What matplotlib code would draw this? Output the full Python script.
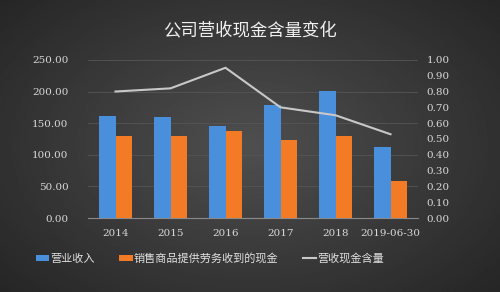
import numpy as np
import matplotlib.pyplot as plt

plt.rcParams['font.family'] = ['Noto Sans CJK SC', 'DejaVu Sans']

years = ['2014', '2015', '2016', '2017', '2018', '2019-06-30']
revenue = [161, 160, 146, 179, 201, 112]
cash = [130, 130, 138, 123, 130, 59]
ratio = [0.80, 0.82, 0.95, 0.70, 0.65, 0.53]

title = '公司营收现金含量变化'
labels = ['营业收入', '销售商品提供劳务收到的现金', '营收现金含量']


def main() -> None:
  fig = plt.figure(figsize=(5, 2.92), dpi=100)

  #* background gradient
  bg = fig.add_axes([0, 0, 1, 1])
  yy, xx = np.mgrid[-1:1:200j, -1:1:300j]
  r = np.sqrt(xx**2 + (yy * 0.9)**2)
  bg.imshow(0.31 - 0.12 * r, cmap='gray', vmin=0, vmax=1, aspect='auto', extent=[0, 1, 0, 1])
  bg.axis('off')

  ax = fig.add_axes([0.176, 0.253, 0.66, 0.542])
  ax.patch.set_alpha(0)
  x = np.arange(len(years))
  w = 0.3
  ax.bar(x - w/2, revenue, w, color='#4a8fdc', label=labels[0], zorder=3)
  ax.bar(x + w/2, cash, w, color='#f47b25', label=labels[1], zorder=3)
  ax.set_ylim(0, 250)
  ax.set_yticks(np.arange(0, 251, 50))
  ax.set_yticklabels([f'{v:.2f}' for v in np.arange(0, 251, 50)])
  ax.set_xlim(-0.5, len(years) - 0.5)
  ax.set_xticks(x)
  ax.set_xticklabels(years)
  ax.grid(axis='y', color='#555555', linewidth=0.6, zorder=0)
  for s in ['top', 'right', 'left']:
    ax.spines[s].set_visible(False)
  ax.spines['bottom'].set_color('#8a8a8a')
  ax.tick_params(length=0, colors='#d8d8d8', labelsize=7.5)
  ax.tick_params(axis='y', pad=14)
  ax.tick_params(axis='x', pad=8)
  for t in ax.get_xticklabels() + ax.get_yticklabels():
    t.set_family('DejaVu Serif')

  ax2 = ax.twinx()
  ax2.plot(x, ratio, color='#c8c8c8', linewidth=1.5, label=labels[2], zorder=4)
  ax2.set_ylim(0, 1)
  ax2.set_yticks(np.arange(0, 1.01, 0.1))
  ax2.set_yticklabels([f'{v:.2f}' for v in np.arange(0, 1.01, 0.1)])
  for s in ['top', 'right', 'left', 'bottom']:
    ax2.spines[s].set_visible(False)
  ax2.tick_params(length=0, colors='#d8d8d8', labelsize=7.5, pad=6)
  for t in ax2.get_yticklabels():
    t.set_family('DejaVu Serif')

  h1, l1 = ax.get_legend_handles_labels()
  h2, l2 = ax2.get_legend_handles_labels()
  fig.legend(h1 + h2, l1 + l2, loc='center', bbox_to_anchor=(0.42, 0.115), ncol=3,
             frameon=False, fontsize=8, labelcolor='#e0e0e0', handlelength=1.2,
             handleheight=0.5, handletextpad=0.1, columnspacing=2.2)

  fig.text(0.5, 0.895, title, ha='center', va='center', color='#f0f0f0', fontsize=12.5)

  fig.savefig('out.png', dpi=100)


if __name__ == "__main__":
  main()
